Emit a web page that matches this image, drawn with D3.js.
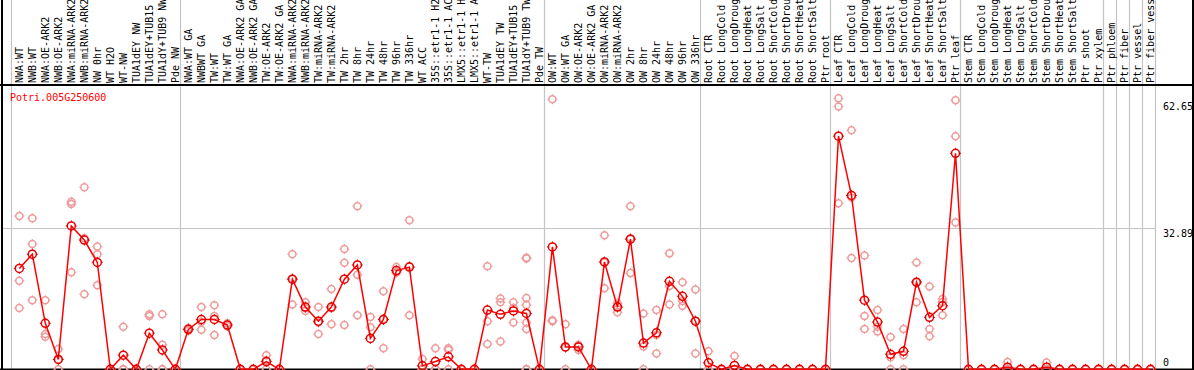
<!DOCTYPE html>
<html>
<head>
<meta charset="utf-8">
<script src="https://cdn.jsdelivr.net/npm/d3@7"></script>
<style>
body{margin:0;background:#fff}
svg{display:block}
text{font-family:"DejaVu Sans Mono",monospace;font-size:10px}
</style>
</head>
<body>
<svg id="chart" width="1194" height="370"></svg>
<script>
// sample names, left to right
const samples = [
  'NWA:WT','NWB:WT','NWA:OE-ARK2','NWB:OE-ARK2','NWA:miRNA-ARK2','NWB:miRNA-ARK2','NW 0hr','WT H2O','WT-NW','TUA1dEY NW',
  'TUA1dEY+TUB15 NW','TUA1dY+TUB9 NW','Pde NW',
  'NWA:WT GA','NWBWT GA','TW:WT','TW:WT GA','NWA:OE-ARK2 GA','NWB:OE-ARK2 GA','TW:OE-ARK2','TW:OE-ARK2 GA',
  'NWA:miRNA-ARK2 GA','NWB:miRNA-ARK2 GA','TW:miRNA-ARK2','TW:miRNA-ARK2 GA','TW 2hr','TW 8hr','TW 24hr','TW 48hr','TW 96hr','TW 336hr',
  'WT ACC','35S::etr1-1 H2O','35S::etr1-1 ACC','LMX5::etr1-1 H2O','LMX5::etr1-1 ACC','WT-TW','TUA1dEY TW','TUA1dEY+TUB15 TW','TUA1dY+TUB9 TW','Pde TW',
  'OW:WT','OW:WT GA','OW:OE-ARK2','OW:OE-ARK2 GA','OW:miRNA-ARK2','OW:miRNA-ARK2 GA','OW 2hr','OW 8hr','OW 24hr','OW 48hr','OW 96hr','OW 336hr',
  'Root CTR','Root LongCold','Root LongDrought','Root LongHeat','Root LongSalt','Root ShortCold','Root ShortDrought','Root ShortHeat','Root ShortSalt','Ptr root',
  'Leaf CTR','Leaf LongCold','Leaf LongDrought','Leaf LongHeat','Leaf LongSalt','Leaf ShortCold','Leaf ShortDrought','Leaf ShortHeat','Leaf ShortSalt','Ptr leaf',
  'Stem CTR','Stem LongCold','Stem LongDrought','Stem LongHeat','Stem LongSalt','Stem ShortCold','Stem ShortDrought','Stem ShortHeat','Stem ShortSalt','Ptr shoot',
  'Ptr xylem','Ptr phloem','Ptr fiber','Ptr vessel','Ptr fiber vessel'
];
// mean expression per sample
const means = [
  23.5, 26.8, 10.7, 2.3, 33.4, 30.1, 24.9, 0, 3.3, 0,
  8.4, 4.5, 0, 9.3, 11.6, 11.6, 10.3, 0, 0, 1.8,
  0, 21.0, 14.5, 11.2, 14.5, 21.0, 24.3, 7.2, 11.6, 23.0,
  23.8, 0.8, 1.8, 2.9, 0, 0, 13.8, 12.8, 13.6, 13.0,
  0, 28.5, 5.2, 5.2, 0, 25.0, 14.5, 30.3, 6.1, 8.5,
  20.5, 17.0, 11.2, 1.5, 0, 0.9, 0, 0, 0, 0,
  0, 0, 0, 54.3, 40.5, 16.1, 11.0, 3.5, 4.2, 20.3,
  12.1, 14.8, 50.3, 0, 0, 0, 0.5, 0, 0, 0.5,
  0, 0, 0, 0, 0, 0, 0, 0
];
// replicate values per sample
const reps = [
  [35.7,20.6,14.3],[35.2,29.2,16.1],[16.1,8.2,7.6],[4.7,2.3,0],[39.0,38.5,22.6],[42.4,30.5,17.5],[28.6,26.8,19.6],[0,0,0],[9.9,0,0],[0,0,0],
  [12.8,12.4,0],[12.8,5.7,0,0],[0,0,0],[9.6,9.3,9.0],[14.5,11.1,9.2],[14.9,12.4,8.0],[10.7,10.1,10.1],[0,0,0],[0,0,0],[3.3,2.1,0],
  [0,0,0],[26.8,21.1,15.1],[15.6,14.3,13.6],[14.5,10.9,8.2],[18.7,14.3,10.5],[28.0,24.8,10.3],[38.0,22.0,12.6],[12.2,9.8,0],[18.2,11.7,4.9],[23.8,22.7,22.5],
  [34.7,24.0,12.6],[2.4,0,0],[4.9,0,0],[4.9,4.5,0],[0,0,0],[0,0,0],[24.0,11.2,5.9],[16.5,15.6,6.5],[15.6,14.3,10.9],[26.0,25.8,16.6,15.0,10.9,9.4,0,0],
  [0,0,0],[62.9,11.4,11.2],[10.5,5.1,0],[5.7,5.4,4.5],[0,0,0],[31.2,24.9,18.9],[15.4,14.8,13.3],[38.0,30.5,22.4],[13.0,5.3,0],[13.8,8.0,3.7],
  [27.0,19.4,15.1],[20.3,15.9,14.8],[18.6,11.3,3.7],[4.2,0,0],[0,0,0],[3.1,0,0],[0,0,0],[0,0,0],[0,0,0],[0,0,0],
  [0,0,0],[0,0,0],[0,0,0],[63.1,61.2,38.7],[55.7,40.0,25.9],[26.5,12.4,9.4],[13.8,9.9,8.8],[7.5,2.8,0],[9.4,3.3,0],[24.9,20.3,15.6],
  [19.3,9.4,7.7],[16.4,15.7,12.6],[62.65,54.3,34.2],[0,0,0],[0,0,0],[0,0,0],[1.7,0,0],[0,0,0],[0,0,0],[1.6,0,0],
  [0,0,0],[0,0,0],[0,0,0],[0,0,0],[0,0,0],[0,0,0],[0,0,0],[0,0,0]
];
const groupStarts = [0, 13, 41, 53, 63, 73, 84, 85, 86, 87, 88];
const yTicks = [0, 32.89, 62.65];
const geneName = 'Potri.005G250600';

const W = 1194, H = 370, headTop = 85;
let svg = d3.select('#chart');
let x = d3.scaleLinear().domain([0, 87]).range([19.3, 19.3 + 13.003 * 87]);
let y = d3.scaleLinear().domain([0, 62.65]).range([369.3, 100.3]);
let edge = i => x(i) - 8.5;

// grey separators
svg.selectAll('line.vg').data(groupStarts).enter().append('line')
  .attr('x1', d => Math.round(edge(d)) + 0.5).attr('x2', d => Math.round(edge(d)) + 0.5)
  .attr('y1', 0).attr('y2', 369).attr('stroke', '#c4c4c4').attr('stroke-width', 1.2);
svg.append('line')
  .attr('x1', 2).attr('x2', edge(88)).attr('y1', Math.round(y(32.89)) + 0.5).attr('y2', Math.round(y(32.89)) + 0.5)
  .attr('stroke', '#c4c4c4').attr('stroke-width', 1.2);

// frame
let frame = svg.append('g').attr('stroke', '#000').attr('stroke-width', 2);
frame.append('line').attr('x1', 0).attr('x2', W).attr('y1', headTop).attr('y2', headTop);
frame.append('line').attr('x1', 2).attr('x2', 2).attr('y1', 0).attr('y2', H);
frame.append('line').attr('x1', W - 1).attr('x2', W - 1).attr('y1', 0).attr('y2', H);
frame.append('line').attr('x1', 0).attr('x2', W).attr('y1', 369.5).attr('y2', 369.5);

// sample labels
svg.selectAll('text.lab').data(samples).enter().append('text')
  .attr('transform', (d, i) => `translate(${x(i) + 3.6},83) rotate(-90)`)
  .attr('fill', '#000').text(d => d);

// gene name
svg.append('text').attr('x', 10).attr('y', 101).attr('fill', '#f00').text(geneName);

// y labels
svg.selectAll('text.yl').data(yTicks).enter().append('text')
  .attr('x', 1163).attr('y', d => d === 0 ? y(d) - 3 : y(d) + 9.3)
  .attr('fill', '#000').text(d => d);

function marker(g, r, color) {
  g.append('circle').attr('r', r).attr('fill', 'none').attr('stroke', color).attr('stroke-width', 1.5);
  let t = r + 1.5;
  g.append('path').attr('d', `M0,${-t}V${-r}M0,${r}V${t}M${-t},0H${-r}M${r},0H${t}`)
    .attr('stroke', color).attr('stroke-width', 1);
}

// replicates
let flat = [];
reps.forEach((arr, i) => arr.forEach(v => flat.push({i: i, v: v})));
svg.selectAll('g.rep').data(flat).enter().append('g')
  .attr('transform', d => `translate(${x(d.i)},${y(d.v)})`)
  .each(function(){ marker(d3.select(this), 3.5, '#ee9a9a'); });

// mean line
let line = d3.line().x((d, i) => x(i)).y(d => y(d));
svg.append('path').datum(means).attr('d', line)
  .attr('fill', 'none').attr('stroke', '#f00').attr('stroke-width', 1.5);

svg.selectAll('g.mean').data(means).enter().append('g')
  .attr('transform', (d, i) => `translate(${x(i)},${y(d)})`)
  .each(function(){ marker(d3.select(this), 4, '#e60000'); });
</script>
</body>
</html>
